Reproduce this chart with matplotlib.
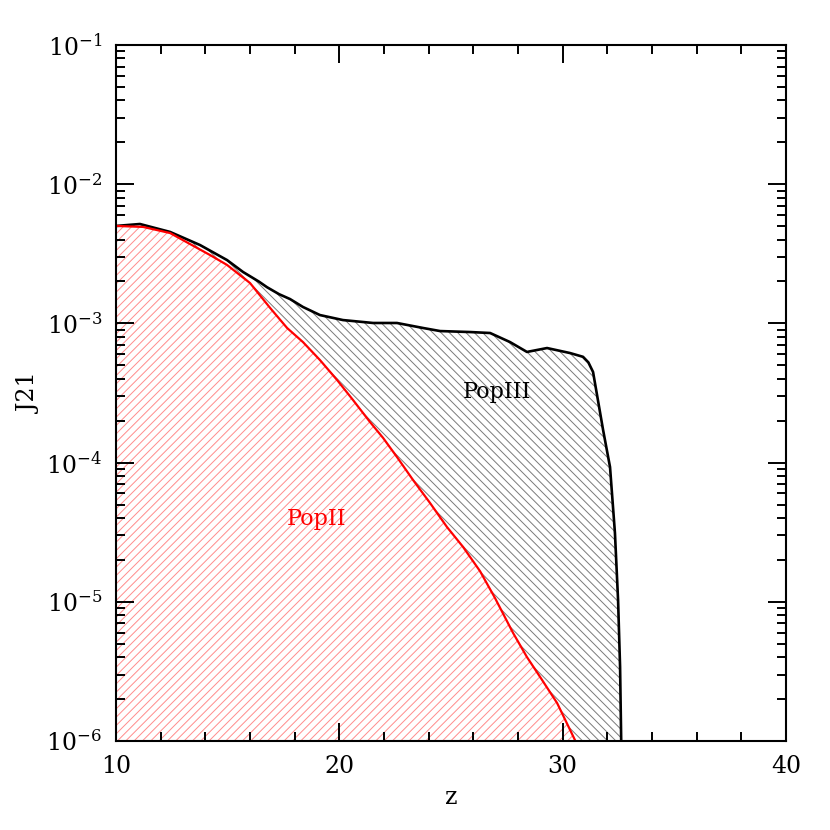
import matplotlib
matplotlib.use('Agg')
import matplotlib.pyplot as plt
import numpy as np
from matplotlib.ticker import MultipleLocator, LogLocator, LogFormatterMathtext

plt.rcParams['font.family'] = 'DejaVu Serif'
plt.rcParams['mathtext.fontset'] = 'dejavuserif'
plt.rcParams['hatch.linewidth'] = 0.7

# total J21 (PopIII + PopII), log10 values
z_tot = [10.0, 11.07, 12.42, 13.76, 14.97, 15.69, 16.40, 16.76, 17.30, 17.79,
         18.37, 19.13, 20.16, 21.51, 22.58, 23.75, 24.51, 25.85, 26.75, 27.64,
         28.40, 29.30, 30.33, 30.91, 31.15, 31.36, 31.81, 32.12, 32.34, 32.48,
         32.57, 32.62, 32.63]
logj_tot = [-2.300, -2.286, -2.343, -2.437, -2.545, -2.631, -2.700, -2.740, -2.790, -2.825,
            -2.882, -2.940, -2.976, -2.997, -2.997, -3.033, -3.055, -3.062, -3.069, -3.134,
            -3.205, -3.177, -3.213, -3.240, -3.280, -3.349, -3.766, -4.032, -4.506, -4.987,
            -5.468, -6.000, -6.300]

# PopII contribution
z_pop2 = [10.0, 11.21, 12.42, 14.21, 14.97, 16.00, 16.90, 17.66, 18.37, 19.13,
          19.90, 20.61, 21.37, 21.96, 22.58, 23.30, 24.06, 24.82, 25.54, 26.30,
          26.97, 27.78, 28.40, 28.99, 29.75, 30.55, 30.80]
logj_pop2 = [-2.300, -2.307, -2.351, -2.509, -2.580, -2.710, -2.889, -3.033, -3.134, -3.263,
             -3.407, -3.550, -3.708, -3.823, -3.960, -4.125, -4.290, -4.463, -4.606, -4.780,
             -4.973, -5.224, -5.397, -5.540, -5.727, -5.993, -6.150]

j_tot = 10.0 ** np.array(logj_tot)
j_pop2 = 10.0 ** np.array(logj_pop2)

fig = plt.figure(figsize=(8.3, 8.3), dpi=100)
ax = fig.add_axes([0.1398, 0.1072, 0.8072, 0.8386])

# PopIII region (grey back-hatch), PopII drawn over it in red
ax.fill_between(z_tot, 1e-7, j_tot, facecolor='white', edgecolor='#7a7a7a',
                hatch='\\\\\\\\', linewidth=0)
ax.fill_between(z_pop2, 1e-7, j_pop2, facecolor='white', edgecolor='#ff8c8c',
                hatch='////', linewidth=0)
ax.plot(z_tot, j_tot, color='black', lw=1.9)
ax.plot(z_pop2, j_pop2, color='red', lw=1.6)

ax.set_yscale('log')
ax.set_xlim(10, 40)
ax.set_ylim(1e-6, 1e-1)

ax.xaxis.set_major_locator(MultipleLocator(10))
ax.xaxis.set_minor_locator(MultipleLocator(2))
ax.yaxis.set_major_locator(LogLocator(base=10))
ax.yaxis.set_minor_locator(LogLocator(base=10, subs=np.arange(2, 10)))
ax.yaxis.set_major_formatter(LogFormatterMathtext())

ax.tick_params(which='both', direction='in', top=True, right=True, width=1.4,
               labelsize=17)
ax.tick_params(which='major', length=13, pad=10)
ax.tick_params(which='minor', length=6.5)
for s in ax.spines.values():
    s.set_linewidth(1.5)

ax.set_xlabel('z', fontsize=17, labelpad=6)
ax.set_ylabel('J21', fontsize=17, labelpad=4)

ax.text(27.06, 3.2e-4, 'PopIII', fontsize=16, color='black', ha='center', va='center')
ax.text(18.96, 3.94e-5, 'PopII', fontsize=16, color='red', ha='center', va='center')

plt.savefig('out.png', dpi=100)
